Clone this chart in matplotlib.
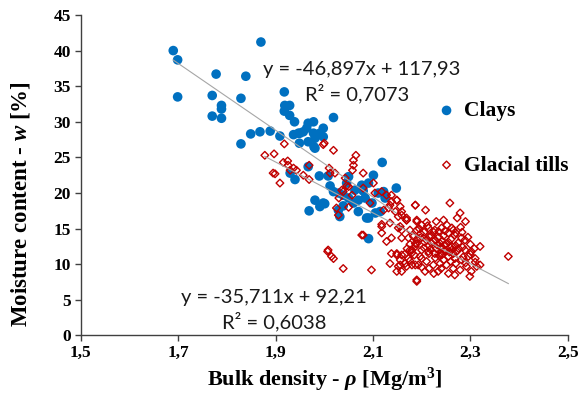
import matplotlib.pyplot as plt
from matplotlib.ticker import FuncFormatter

# Clays: bulk density [Mg/m3] and moisture content [%]
clay_rho = [1.690, 1.699, 1.699, 1.870, 1.778, 1.839, 1.770, 1.789, 1.789, 1.770,
            1.789, 1.829, 1.849, 1.868, 1.889, 1.829, 1.909, 1.918, 1.919, 1.929,
            1.918, 1.929, 1.939, 1.967, 1.978, 1.964, 1.957, 1.950, 1.978, 1.981,
            1.967, 1.949, 1.937, 1.979, 2.019, 1.998, 1.991, 1.998, 1.947, 1.981,
            1.967, 1.930, 1.940, 1.990, 2.008, 2.019, 1.981, 1.991, 2.001, 1.969,
            2.029, 2.119, 2.148, 2.101, 2.091, 2.077, 2.070, 2.060, 2.084, 2.098,
            2.111, 2.122, 2.125, 2.115, 2.070, 2.091, 2.039, 2.050, 2.063, 2.105,
            2.091, 1.998, 2.032, 2.087, 2.046, 2.030, 2.039, 2.050, 2.012, 2.080]
clay_w = [40.0, 38.7, 33.5, 41.2, 36.7, 36.4, 33.7, 32.3, 31.8, 30.8,
          30.5, 33.3, 28.3, 28.6, 28.7, 26.9, 28.0, 34.2, 32.3, 32.3,
          31.5, 30.9, 30.0, 29.8, 30.0, 29.1, 28.6, 28.4, 28.4, 27.7,
          27.2, 27.0, 28.2, 26.5, 30.6, 29.1, 28.4, 27.9, 28.4, 26.3,
          23.7, 22.8, 21.9, 22.4, 22.4, 20.2, 19.0, 18.1, 18.5, 17.5,
          17.6, 24.3, 20.7, 22.5, 21.4, 21.1, 19.0, 18.6, 19.3, 18.6,
          20.0, 20.2, 19.3, 17.4, 17.4, 16.5, 19.7, 22.3, 20.4, 17.2,
          13.6, 18.6, 16.7, 16.5, 21.4, 20.0, 18.2, 19.3, 21.0, 20.3]

# Glacial tills
till_rho = [1.878, 1.897, 1.916, 1.926, 1.937, 1.943, 1.899, 1.909, 1.957, 1.969,
            1.969, 1.918, 1.998, 2.019, 2.010, 2.012, 2.060, 2.060, 2.058, 2.080,
            2.022, 2.043, 2.050, 2.039, 2.057, 2.080, 2.101, 2.094, 2.104, 2.118,
            2.128, 2.138, 2.149, 2.138, 2.156, 2.132, 2.122, 2.146, 2.159, 2.169,
            2.187, 2.190, 2.029, 2.080, 2.118, 2.135, 2.156, 2.176, 2.190, 2.008,
            2.019, 2.039, 2.097, 2.077, 2.118, 2.118, 2.128, 2.138, 2.159, 2.169,
            2.152, 2.135, 2.173, 2.180, 2.187, 2.138, 2.149, 2.156, 2.166, 2.152,
            2.159, 2.187, 2.190, 2.135, 2.007, 2.015, 2.149, 2.159, 2.169, 2.152,
            2.159, 2.149, 2.159, 2.156, 2.169, 2.149, 2.180, 2.176, 2.187, 2.208,
            2.258, 2.279, 2.190, 2.200, 2.214, 2.227, 2.241, 2.255, 2.268, 2.282,
            2.289, 2.183, 2.197, 2.210, 2.224, 2.238, 2.248, 2.262, 2.276, 2.289,
            2.302, 2.187, 2.200, 2.214, 2.227, 2.241, 2.255, 2.268, 2.282, 2.296,
            2.310, 2.320, 2.313, 2.302, 2.299, 2.197, 2.210, 2.224, 2.238, 2.251,
            2.265, 2.279, 2.292, 2.193, 2.207, 2.234, 2.255, 2.268, 2.378, 2.190,
            2.320, 2.173, 2.205, 2.220, 2.235, 2.245, 2.260, 2.215, 2.230, 2.250,
            2.240, 2.265, 2.275, 2.190, 2.205, 2.228, 2.262, 2.245, 2.270, 2.220,
            2.255, 2.235, 2.210, 2.245, 2.230, 2.280, 2.285, 2.300, 2.290, 2.240,
            2.200, 2.215, 2.252, 2.195, 2.225, 2.185, 2.265, 2.310, 2.273, 2.290,
            2.050, 2.030, 2.025, 2.046, 2.036, 1.930, 1.895, 1.925, 2.000, 2.065,
            2.215, 2.228, 2.242, 2.250, 2.258, 2.270, 2.232, 2.218, 2.246, 2.236,
            2.257, 2.272, 2.284, 2.225, 2.248, 2.262, 2.212, 2.198, 2.206, 2.190,
            2.176, 2.180, 2.170, 2.165, 2.176, 2.200, 2.215, 2.240, 2.260, 2.300,
            2.295, 2.308, 2.270, 2.283]
till_w = [25.3, 25.5, 24.3, 23.9, 23.5, 23.2, 22.7, 21.4, 22.5, 21.9,
          23.9, 26.9, 26.8, 26.0, 23.5, 22.8, 24.6, 23.9, 23.2, 22.8,
          22.8, 22.1, 20.9, 20.2, 19.7, 20.7, 21.4, 18.6, 20.0, 20.2,
          19.7, 19.7, 19.0, 18.8, 18.1, 17.9, 17.6, 17.4, 16.9, 16.2,
          18.3, 16.2, 16.9, 14.1, 15.3, 15.8, 15.3, 14.8, 14.8, 12.0,
          10.8, 9.4, 9.2, 14.1, 15.6, 14.4, 13.2, 13.7, 14.8, 16.2,
          16.7, 18.3, 13.7, 12.0, 12.9, 11.5, 11.3, 10.6, 10.1, 9.7,
          9.0, 9.9, 7.8, 10.1, 11.8, 11.1, 19.0, 17.4, 16.5, 15.1,
          13.7, 11.5, 11.3, 9.9, 9.7, 9.0, 9.9, 12.0, 18.3, 17.6,
          18.6, 17.2, 16.0, 15.5, 15.1, 14.8, 15.1, 14.4, 14.1, 13.7,
          13.4, 13.9, 13.7, 13.4, 13.2, 12.9, 12.7, 12.5, 12.2, 12.0,
          11.8, 12.5, 12.0, 11.8, 11.5, 11.3, 11.1, 10.8, 10.6, 11.1,
          10.8, 12.5, 9.7, 9.0, 8.3, 11.1, 10.4, 9.9, 10.1, 9.9,
          9.4, 9.2, 9.7, 9.9, 9.0, 9.0, 8.7, 8.5, 11.1, 7.6,
          9.9, 10.8, 14.5, 14.0, 13.8, 14.0, 13.5, 12.6, 12.2, 11.9,
          11.6, 11.5, 13.0, 12.9, 12.3, 10.9, 12.0, 10.6, 10.1, 13.0,
          13.1, 14.6, 15.9, 16.2, 16.0, 15.2, 11.0, 12.8, 10.2, 12.4,
          10.8, 11.5, 15.5, 15.0, 8.7, 11.3, 14.8, 10.3, 16.5, 16.0,
          18.0, 19.3, 17.9, 21.0, 20.4, 23.2, 22.8, 24.5, 27.0, 25.3,
          13.9, 13.4, 13.3, 12.9, 12.4, 12.6, 12.7, 12.1, 11.9, 11.2,
          11.7, 11.8, 12.4, 14.5, 14.7, 15.1, 15.4, 14.3, 13.1, 13.5,
          12.8, 11.6, 12.2, 11.4, 10.5, 9.6, 9.4, 9.4, 10.4, 11.4,
          13.8, 12.2, 14.4, 14.5]

# Linear trend lines y = a*x + b (as reported)
clay_fit = (-46.897, 117.93, 0.7073)
till_fit = (-35.711, 92.21, 0.6038)

x_ticks = [1.5, 1.7, 1.9, 2.1, 2.3, 2.5]
y_ticks = [0, 5, 10, 15, 20, 25, 30, 35, 40, 45]

blue = '#0070C0'
red = '#C00000'
serif = 'Liberation Serif'
sans = 'Lato'

plt.rcParams['mathtext.fontset'] = 'custom'
plt.rcParams['mathtext.rm'] = 'Liberation Serif:bold'
plt.rcParams['mathtext.it'] = 'Liberation Serif:bold:italic'


def comma(v):
    return f'{v:.1f}'.replace('.', ',')


fig = plt.figure(figsize=(5.82, 3.94), dpi=100)
ax = fig.add_axes([0.1387, 0.1485, 0.8368, 0.8135])

ax.scatter(clay_rho, clay_w, s=48, color=blue, edgecolors='none', label='Clays', zorder=2)
ax.scatter(till_rho, till_w, s=15, marker='D', facecolors='none', edgecolors=red,
           linewidths=1.0, label='Glacial tills', zorder=3)

# trend lines over the range of each series
for xs, (a, b, r2) in [(clay_rho, clay_fit), (till_rho, till_fit)]:
    x0, x1 = min(xs), max(xs)
    ax.plot([x0, x1], [a * x0 + b, a * x1 + b], color='#A6A6A6', lw=0.8, zorder=4)

txt = dict(fontsize=14.5, family=sans, color='#1a1a1a', va='center', ha='left')
ax.text(1.874, 37.3, 'y = -46,897x + 117,93', **txt)
ax.text(1.961, 34.0, 'R² = 0,7073', **txt)
ax.text(1.706, 5.4, 'y = -35,711x + 92,21', **txt)
ax.text(1.790, 2.0, 'R² = 0,6038', **txt)

ax.set_xlim(1.5, 2.5)
ax.set_ylim(0, 45)
ax.set_xticks(x_ticks)
ax.set_yticks(y_ticks)
ax.xaxis.set_major_formatter(FuncFormatter(lambda v, p: comma(v)))
for spine in ['top', 'right']:
    ax.spines[spine].set_visible(False)
for spine in ['left', 'bottom']:
    ax.spines[spine].set_color('#404040')
    ax.spines[spine].set_linewidth(1.0)
ax.tick_params(direction='out', length=4, width=1.0, color='#404040', pad=3)
for lab in ax.get_xticklabels() + ax.get_yticklabels():
    lab.set_fontfamily(serif)
    lab.set_fontweight('bold')
    lab.set_fontsize(12.5)

ax.set_xlabel('Bulk density - $\\rho$ [Mg/m$^3$]', fontsize=16, family=serif,
              fontweight='bold', labelpad=3)
fig.text(0.036, 0.481, 'Moisture content - $w$ [%]', rotation=90, fontsize=16.5,
         family=serif, fontweight='bold', ha='center', va='center')

leg = ax.legend(loc='upper left', bbox_to_anchor=(439 / 582, 1 - 101 / 394),
                bbox_transform=fig.transFigure, frameon=False, handlelength=0.7,
                handletextpad=0.45, labelspacing=1.6, borderpad=0, borderaxespad=0,
                prop={'family': serif, 'weight': 'bold', 'size': 15.5})

fig.savefig('out.png', dpi=100, facecolor='white')
